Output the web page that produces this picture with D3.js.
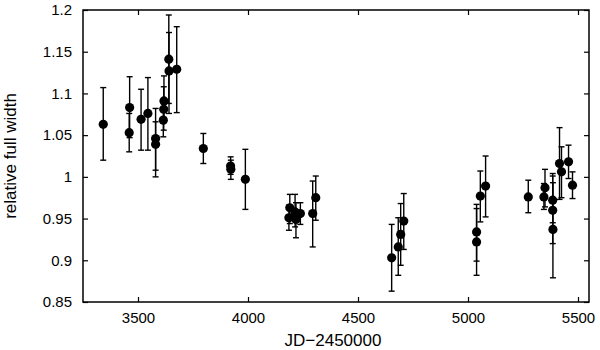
<!DOCTYPE html>
<html>
<head>
<meta charset="utf-8">
<script src="https://cdn.jsdelivr.net/npm/d3@7"></script>
<style>
  body { margin: 0; background: #fff; }
  text { font-family: "Liberation Sans", Arial, sans-serif; fill: #000; }
</style>
</head>
<body>
<script>
// observation dates (JD-2450000)
var jd = [3342, 3462, 3460, 3514, 3545, 3580, 3580, 3618, 3617, 3615,
          3640, 3641, 3676, 3797, 3921, 3922, 3988,
          4190, 4186, 4214, 4218, 4238, 4294, 4308,
          4653, 4683, 4694, 4708,
          5039, 5039, 5056, 5080, 5274, 5345, 5350, 5385, 5385, 5386,
          5416, 5425, 5457, 5475];
// relative full width
var fw = [1.063, 1.083, 1.053, 1.069, 1.076, 1.046, 1.039, 1.091, 1.081, 1.068,
          1.141, 1.127, 1.129, 1.034, 1.013, 1.009, 0.997,
          0.963, 0.951, 0.958, 0.949, 0.956, 0.956, 0.975,
          0.903, 0.916, 0.931, 0.947,
          0.934, 0.922, 0.977, 0.989, 0.976, 0.976, 0.987, 0.972, 0.960, 0.937,
          1.016, 1.006, 1.018, 0.990];
// error bar ends
var lower = [1.020, 1.047, 1.030, 1.032, 1.032, 1.000, 1.008, 1.066, 1.056, 1.048,
             1.088, 1.076, 1.077, 1.016, 1.003, 0.997, 0.961,
             0.944, 0.936, 0.940, 0.927, 0.943, 0.916, 0.948,
             0.863, 0.882, 0.894, 0.913,
             0.899, 0.882, 0.946, 0.952, 0.957, 0.961, 0.964, 0.945, 0.920, 0.879,
             0.973, 0.975, 0.998, 0.974];
var upper = [1.107, 1.120, 1.076, 1.105, 1.119, 1.082, 1.066, 1.121, 1.108, 1.090,
             1.194, 1.173, 1.180, 1.052, 1.024, 1.020, 1.033,
             0.979, 0.966, 0.979, 0.969, 0.969, 0.995, 1.001,
             0.943, 0.951, 0.968, 0.980,
             0.967, 0.962, 1.007, 1.025, 0.996, 0.992, 1.009, 1.001, 1.004, 0.993,
             1.059, 1.036, 1.038, 1.006];

var xTicks = [3500, 4000, 4500, 5000, 5500];
var yTicks = [0.85, 0.9, 0.95, 1, 1.05, 1.1, 1.15, 1.2];

var data = jd.map(function(d, i) {
    return {jd: d, v: fw[i], lo: lower[i], hi: upper[i]};
});

// set the size of the graph
var margin = {top: 10, right: 11, bottom: 48, left: 83},
    width = 600 - margin.left - margin.right,
    height = 350 - margin.top - margin.bottom;

var x = d3.scaleLinear().domain([3250, 5550]).range([0, width]);
var y = d3.scaleLinear().domain([0.85, 1.2]).range([height, 0]);

var svg = d3.select("body").append("svg")
    .attr("width", 600)
    .attr("height", 350)
    .append("g")
    .attr("transform", "translate(" + margin.left + "," + margin.top + ")");

// axes, ticks pointing inward on all four sides
var fmt = function(d) { return d3.format("")(d); };

svg.append("g")
    .attr("transform", "translate(0," + height + ")")
    .call(d3.axisBottom(x).tickValues(xTicks).tickSizeInner(-5).tickSizeOuter(0).tickPadding(10).tickFormat(fmt));
svg.append("g")
    .call(d3.axisTop(x).tickValues(xTicks).tickSizeInner(-5).tickSizeOuter(0).tickFormat(""));
svg.append("g")
    .call(d3.axisLeft(y).tickValues(yTicks).tickSizeInner(-5).tickSizeOuter(0).tickPadding(11).tickFormat(fmt));
svg.append("g")
    .attr("transform", "translate(" + width + ",0)")
    .call(d3.axisRight(y).tickValues(yTicks).tickSizeInner(-5).tickSizeOuter(0).tickFormat(""));

svg.selectAll(".domain").remove();
svg.selectAll(".tick line").attr("stroke", "#000").attr("stroke-width", 1.2);
svg.selectAll(".tick text")
    .style("font-size", "15px")
    .style("font-family", "'Liberation Sans', Arial, sans-serif");

// frame
svg.append("rect")
    .attr("width", width)
    .attr("height", height)
    .attr("fill", "none")
    .attr("stroke", "#000")
    .attr("stroke-width", 1.5);

// error bars
var eb = svg.append("g").attr("stroke", "#000").attr("stroke-width", 1.4);
eb.selectAll(".bar").data(data).enter().append("line")
    .attr("x1", function(d) { return x(d.jd); })
    .attr("x2", function(d) { return x(d.jd); })
    .attr("y1", function(d) { return y(d.lo); })
    .attr("y2", function(d) { return y(d.hi); });
eb.selectAll(".capHi").data(data).enter().append("line")
    .attr("x1", function(d) { return x(d.jd) - 3; })
    .attr("x2", function(d) { return x(d.jd) + 3; })
    .attr("y1", function(d) { return y(d.hi); })
    .attr("y2", function(d) { return y(d.hi); });
eb.selectAll(".capLo").data(data).enter().append("line")
    .attr("x1", function(d) { return x(d.jd) - 3; })
    .attr("x2", function(d) { return x(d.jd) + 3; })
    .attr("y1", function(d) { return y(d.lo); })
    .attr("y2", function(d) { return y(d.lo); });

// points
svg.append("g").selectAll("circle").data(data).enter().append("circle")
    .attr("cx", function(d) { return x(d.jd); })
    .attr("cy", function(d) { return y(d.v); })
    .attr("r", 4.6)
    .style("fill", "#000");

// axis titles
svg.append("text")
    .attr("x", 333 - margin.left)
    .attr("y", 346 - margin.top)
    .style("text-anchor", "middle")
    .style("font-size", "17px")
    .text("JD\u22122450000");

svg.append("text")
    .attr("transform", "translate(" + (15.5 - margin.left) + "," + (height / 2) + ") rotate(-90)")
    .style("text-anchor", "middle")
    .style("font-size", "17px")
    .text("relative full width");
</script>
</body>
</html>
